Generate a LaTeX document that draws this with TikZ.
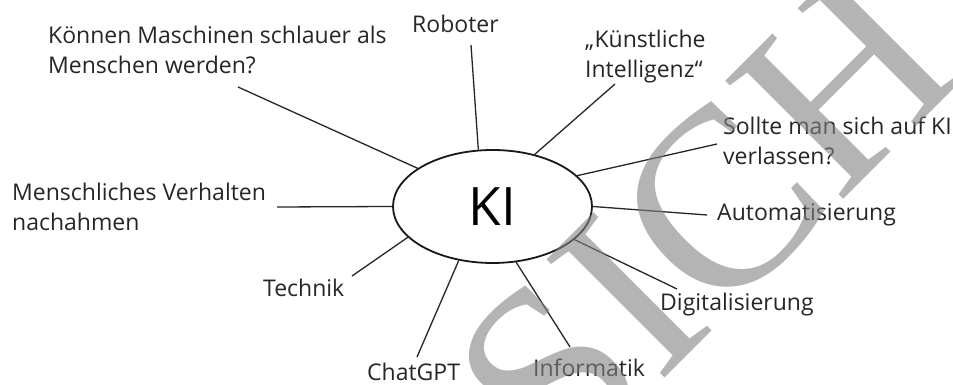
\documentclass[tikz,border=0pt]{standalone}
\usepackage{fontspec}
\setmainfont{Open Sans}
\newfontfamily\wmfont{Liberation Serif}
\usetikzlibrary{shapes.geometric}
\tikzset{
  lbl/.style={anchor=base west, inner sep=0pt, align=left, text=black!85,
    font=\fontsize{23}{30}\selectfont},
  conn/.style={draw=black!85, line width=1.3pt},
}
\begin{document}
\begin{tikzpicture}[x=1pt,y=1pt]
\useasboundingbox (0,0) rectangle (953,385);
\fill[white] (0,0) rectangle (953,385);
\clip (0,0) rectangle (953,385);
\node[ellipse, draw=black!90, line width=1.8pt, minimum width=199pt, minimum height=113pt, inner sep=0pt,
  font=\fontsize{53}{60}\selectfont] (ki) at (492.5,178.5) {KI};
% multi-line labels: base anchor sits on the last line
\node[lbl] (t1) at (48,311) {Können Maschinen schlauer als\\Menschen werden?};
\node[lbl] (t2) at (412,352) {Roboter};
\node[lbl] (t3) at (585,307) {„Künstliche\\Intelligenz“};
\node[lbl] (t4) at (723,220) {Sollte man sich auf KI\\verlassen?};
\node[lbl] (t5) at (717,164) {Automatisierung};
\node[lbl] (t6) at (660,74) {Digitalisierung};
\node[lbl] (t7) at (533,8) {Informatik};
\node[lbl] (t8) at (367,4) {ChatGPT};
\node[lbl] (t9) at (263,88) {Technik};
\node[lbl] (t10) at (12,154) {Menschliches Verhalten\\nachahmen};
\coordinate (c1) at (238,298);
\coordinate (c2) at (471,340);
\coordinate (c3) at (615,301);
\coordinate (c4) at (717,241);
\coordinate (c5) at (707,170);
\coordinate (c6) at (677,96);
\coordinate (c7) at (570,38);
\coordinate (c8) at (417,28);
\coordinate (c9) at (352,109);
\coordinate (c10) at (277,178);
\draw[conn] (c1) -- (ki.153.6);
\draw[conn] (c2) -- (ki.104.4);
\draw[conn] (c3) -- (ki.51.7);
\draw[conn] (c4) -- (ki.20.2);
\draw[conn] (c5) -- (ki.-0.3);
\draw[conn] (c6) -- (ki.-22.9);
\draw[conn] (c7) -- (ki.-67.4);
\draw[conn] (c8) -- (ki.238.6);
\draw[conn] (c9) -- (ki.200.8);
\draw[conn] (c10) -- (ki.180);
\node[rotate=45, anchor=base west, inner sep=0pt, text=black!49, text opacity=0.6,
  font=\wmfont\fontsize{255}{255}\selectfont] (wm) at (558,-100) {SICHT};
\end{tikzpicture}
\end{document}
